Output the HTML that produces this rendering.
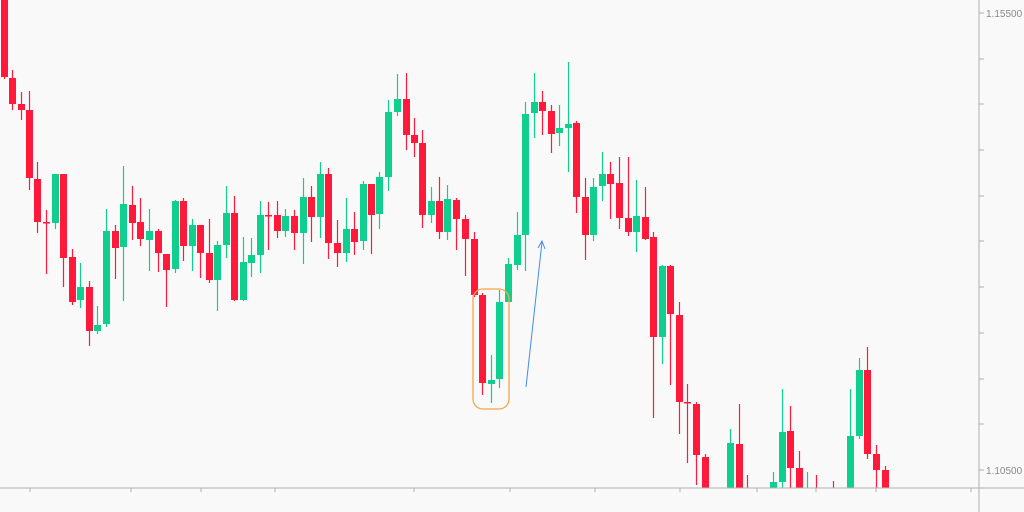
<!DOCTYPE html>
<html><head><meta charset="utf-8"><style>
html,body{margin:0;padding:0;background:#f9f9f9;}
svg{display:block;}
.r{fill:#ff1a3c;stroke:#ff1a3c}
.g{fill:#0fcf8f;stroke:#0fcf8f}
line.r,line.g{stroke-width:1.2}
rect.r,rect.g{stroke-width:0}
text{font-family:"Liberation Sans",sans-serif;font-size:10px;fill:#8a8a8a}
</style></head><body>
<svg width="1024" height="512" viewBox="0 0 1024 512" xmlns="http://www.w3.org/2000/svg">
<rect width="1024" height="512" fill="#f9f9f9"/>
<defs><clipPath id="c"><rect x="0" y="0" width="979" height="488"/></clipPath></defs>
<g clip-path="url(#c)">
<line class="r" x1="4.5" x2="4.5" y1="0" y2="79"/><rect class="r" x="1" y="0" width="7" height="77"/>
<line class="r" x1="12.5" x2="12.5" y1="70" y2="110"/><rect class="r" x="9" y="78" width="7" height="26"/>
<line class="r" x1="21.5" x2="21.5" y1="92" y2="120"/><rect class="r" x="18" y="104" width="7" height="6"/>
<line class="r" x1="29.5" x2="29.5" y1="91" y2="190"/><rect class="r" x="26" y="110" width="7" height="68"/>
<line class="r" x1="37.5" x2="37.5" y1="162" y2="233"/><rect class="r" x="34" y="179" width="7" height="43"/>
<line class="r" x1="46.5" x2="46.5" y1="210" y2="274"/><rect class="r" x="43" y="222" width="7" height="1.5"/>
<line class="g" x1="55.5" x2="55.5" y1="174" y2="229"/><rect class="g" x="52" y="174" width="7" height="49"/>
<line class="r" x1="63.5" x2="63.5" y1="174" y2="287"/><rect class="r" x="60" y="174" width="7" height="84"/>
<line class="r" x1="72.5" x2="72.5" y1="249" y2="305"/><rect class="r" x="69" y="257" width="7" height="45"/>
<line class="g" x1="80.5" x2="80.5" y1="263" y2="308"/><rect class="g" x="77" y="287" width="7" height="13"/>
<line class="r" x1="89.5" x2="89.5" y1="281" y2="346"/><rect class="r" x="86" y="287" width="7" height="44"/>
<line class="g" x1="97.5" x2="97.5" y1="306" y2="334"/><rect class="g" x="94" y="325" width="7" height="6"/>
<line class="g" x1="106.5" x2="106.5" y1="209" y2="327"/><rect class="g" x="103" y="231" width="7" height="93"/>
<line class="r" x1="115.5" x2="115.5" y1="225" y2="279"/><rect class="r" x="112" y="231" width="7" height="17"/>
<line class="g" x1="123.5" x2="123.5" y1="166" y2="301"/><rect class="g" x="120" y="204" width="7" height="43"/>
<line class="r" x1="132.5" x2="132.5" y1="186" y2="240"/><rect class="r" x="129" y="205" width="7" height="18"/>
<line class="r" x1="140.5" x2="140.5" y1="198" y2="246"/><rect class="r" x="137" y="222" width="7" height="17"/>
<line class="g" x1="149.5" x2="149.5" y1="209" y2="271"/><rect class="g" x="146" y="231" width="7" height="9"/>
<line class="r" x1="158.5" x2="158.5" y1="229" y2="272"/><rect class="r" x="155" y="231" width="7" height="22"/>
<line class="r" x1="166.5" x2="166.5" y1="254" y2="307"/><rect class="r" x="163" y="254" width="7" height="16"/>
<line class="g" x1="175.5" x2="175.5" y1="200" y2="273"/><rect class="g" x="172" y="201" width="7" height="68"/>
<line class="r" x1="183.5" x2="183.5" y1="198" y2="261"/><rect class="r" x="180" y="201" width="7" height="45"/>
<line class="g" x1="192.5" x2="192.5" y1="219" y2="271"/><rect class="g" x="189" y="225" width="7" height="21"/>
<line class="r" x1="200.5" x2="200.5" y1="225" y2="278"/><rect class="r" x="197" y="225" width="7" height="28"/>
<line class="r" x1="209.5" x2="209.5" y1="219" y2="283"/><rect class="r" x="206" y="253" width="7" height="27"/>
<line class="g" x1="217.5" x2="217.5" y1="241" y2="311"/><rect class="g" x="214" y="245" width="7" height="35"/>
<line class="g" x1="226.5" x2="226.5" y1="186" y2="258"/><rect class="g" x="223" y="213" width="7" height="32"/>
<line class="r" x1="234.5" x2="234.5" y1="196" y2="301"/><rect class="r" x="231" y="213" width="7" height="87"/>
<line class="g" x1="243.5" x2="243.5" y1="237" y2="301"/><rect class="g" x="240" y="262" width="7" height="38"/>
<line class="g" x1="251.5" x2="251.5" y1="238" y2="277"/><rect class="g" x="248" y="255" width="7" height="8"/>
<line class="g" x1="260.5" x2="260.5" y1="201" y2="273"/><rect class="g" x="257" y="215" width="7" height="40"/>
<line class="r" x1="268.5" x2="268.5" y1="202" y2="250"/><rect class="r" x="265" y="215" width="7" height="1.5"/>
<line class="r" x1="277.5" x2="277.5" y1="201" y2="238"/><rect class="r" x="274" y="215" width="7" height="16"/>
<line class="g" x1="285.5" x2="285.5" y1="209" y2="237"/><rect class="g" x="282" y="216" width="7" height="15"/>
<line class="r" x1="294.5" x2="294.5" y1="210" y2="250"/><rect class="r" x="291" y="216" width="7" height="17"/>
<line class="g" x1="303.5" x2="303.5" y1="178" y2="264"/><rect class="g" x="300" y="197" width="7" height="36"/>
<line class="r" x1="311.5" x2="311.5" y1="186" y2="242"/><rect class="r" x="308" y="197" width="7" height="20"/>
<line class="g" x1="320.5" x2="320.5" y1="162" y2="238"/><rect class="g" x="317" y="174" width="7" height="43"/>
<line class="r" x1="328.5" x2="328.5" y1="168" y2="259"/><rect class="r" x="325" y="174" width="7" height="69"/>
<line class="r" x1="337.5" x2="337.5" y1="220" y2="267"/><rect class="r" x="334" y="243" width="7" height="10"/>
<line class="g" x1="346.5" x2="346.5" y1="198" y2="262"/><rect class="g" x="343" y="229" width="7" height="24"/>
<line class="r" x1="354.5" x2="354.5" y1="212" y2="255"/><rect class="r" x="351" y="229" width="7" height="13"/>
<line class="g" x1="363.5" x2="363.5" y1="181" y2="250"/><rect class="g" x="360" y="184" width="7" height="57"/>
<line class="r" x1="371.5" x2="371.5" y1="184" y2="254"/><rect class="r" x="368" y="184" width="7" height="31"/>
<line class="g" x1="379.5" x2="379.5" y1="172" y2="229"/><rect class="g" x="376" y="177" width="7" height="37"/>
<line class="g" x1="388.5" x2="388.5" y1="100" y2="191"/><rect class="g" x="385" y="112" width="7" height="65"/>
<line class="g" x1="397.5" x2="397.5" y1="74" y2="116"/><rect class="g" x="394" y="99" width="7" height="13"/>
<line class="r" x1="406.5" x2="406.5" y1="73" y2="150"/><rect class="r" x="403" y="99" width="7" height="36"/>
<line class="r" x1="414.5" x2="414.5" y1="118" y2="157"/><rect class="r" x="411" y="135" width="7" height="8"/>
<line class="r" x1="422.5" x2="422.5" y1="130" y2="228"/><rect class="r" x="419" y="143" width="7" height="72"/>
<line class="g" x1="431.5" x2="431.5" y1="187" y2="223"/><rect class="g" x="428" y="201" width="7" height="14"/>
<line class="r" x1="439.5" x2="439.5" y1="177" y2="239"/><rect class="r" x="436" y="201" width="7" height="31"/>
<line class="g" x1="447.5" x2="447.5" y1="185" y2="240"/><rect class="g" x="444" y="199" width="7" height="33"/>
<line class="r" x1="456.5" x2="456.5" y1="198" y2="250"/><rect class="r" x="453" y="200" width="7" height="19"/>
<line class="r" x1="465.5" x2="465.5" y1="215" y2="276"/><rect class="r" x="462" y="219" width="7" height="20"/>
<line class="r" x1="474.5" x2="474.5" y1="232" y2="297"/><rect class="r" x="471" y="239" width="7" height="56"/>
<line class="r" x1="482.5" x2="482.5" y1="293" y2="395"/><rect class="r" x="479" y="295" width="7" height="88"/>
<line class="g" x1="491.5" x2="491.5" y1="355" y2="403"/><rect class="g" x="488" y="380" width="7" height="4"/>
<line class="g" x1="499.5" x2="499.5" y1="290" y2="388"/><rect class="g" x="496" y="302" width="7" height="77"/>
<line class="g" x1="508.5" x2="508.5" y1="258" y2="302"/><rect class="g" x="505" y="264" width="7" height="38"/>
<line class="g" x1="517.5" x2="517.5" y1="212" y2="270"/><rect class="g" x="514" y="235" width="7" height="30"/>
<line class="g" x1="525.5" x2="525.5" y1="102" y2="271"/><rect class="g" x="522" y="114" width="7" height="121"/>
<line class="g" x1="534.5" x2="534.5" y1="73" y2="138"/><rect class="g" x="531" y="102" width="7" height="11"/>
<line class="r" x1="542.5" x2="542.5" y1="91" y2="135"/><rect class="r" x="539" y="102" width="7" height="9"/>
<line class="r" x1="551.5" x2="551.5" y1="105" y2="153"/><rect class="r" x="548" y="111" width="7" height="23"/>
<line class="g" x1="559.5" x2="559.5" y1="105" y2="146"/><rect class="g" x="556" y="128" width="7" height="5"/>
<line class="g" x1="568.5" x2="568.5" y1="62" y2="172"/><rect class="g" x="565" y="124" width="7" height="4"/>
<line class="r" x1="576.5" x2="576.5" y1="121" y2="213"/><rect class="r" x="573" y="123" width="7" height="74"/>
<line class="r" x1="585.5" x2="585.5" y1="178" y2="260"/><rect class="r" x="582" y="197" width="7" height="38"/>
<line class="g" x1="593.5" x2="593.5" y1="178" y2="241"/><rect class="g" x="590" y="187" width="7" height="48"/>
<line class="g" x1="602.5" x2="602.5" y1="152" y2="201"/><rect class="g" x="599" y="174" width="7" height="12"/>
<line class="r" x1="610.5" x2="610.5" y1="162" y2="219"/><rect class="r" x="607" y="174" width="7" height="10"/>
<line class="r" x1="619.5" x2="619.5" y1="157" y2="229"/><rect class="r" x="616" y="183" width="7" height="35"/>
<line class="r" x1="628.5" x2="628.5" y1="157" y2="236"/><rect class="r" x="625" y="218" width="7" height="14"/>
<line class="g" x1="636.5" x2="636.5" y1="180" y2="252"/><rect class="g" x="633" y="216" width="7" height="16"/>
<line class="r" x1="645.5" x2="645.5" y1="187" y2="240"/><rect class="r" x="642" y="217" width="7" height="22"/>
<line class="r" x1="653.5" x2="653.5" y1="232" y2="418"/><rect class="r" x="650" y="237" width="7" height="100"/>
<line class="g" x1="662.5" x2="662.5" y1="265" y2="364"/><rect class="g" x="659" y="266" width="7" height="71"/>
<line class="r" x1="670.5" x2="670.5" y1="265" y2="385"/><rect class="r" x="667" y="266" width="7" height="48"/>
<line class="r" x1="679.5" x2="679.5" y1="302" y2="434"/><rect class="r" x="676" y="315" width="7" height="87"/>
<line class="r" x1="687.5" x2="687.5" y1="384" y2="463"/><rect class="r" x="684" y="402" width="7" height="1.5"/>
<line class="r" x1="696.5" x2="696.5" y1="402" y2="485"/><rect class="r" x="693" y="404" width="7" height="51"/>
<line class="r" x1="705.5" x2="705.5" y1="454" y2="495"/><rect class="r" x="702" y="457" width="7" height="38"/>
<line class="g" x1="730.5" x2="730.5" y1="429" y2="495"/><rect class="g" x="727" y="443" width="7" height="52"/>
<line class="r" x1="739.5" x2="739.5" y1="404" y2="495"/><rect class="r" x="736" y="444" width="7" height="51"/>
<line class="r" x1="747.5" x2="747.5" y1="475" y2="495"/>
<line class="g" x1="773.5" x2="773.5" y1="472" y2="495"/><rect class="g" x="770" y="482" width="7" height="13"/>
<line class="g" x1="782.5" x2="782.5" y1="389" y2="495"/><rect class="g" x="779" y="432" width="7" height="50"/>
<line class="r" x1="790.5" x2="790.5" y1="406" y2="495"/><rect class="r" x="787" y="431" width="7" height="37"/>
<line class="r" x1="799.5" x2="799.5" y1="451" y2="495"/><rect class="r" x="796" y="468" width="7" height="27"/>
<line class="g" x1="807.5" x2="807.5" y1="472" y2="495"/>
<line class="r" x1="816.5" x2="816.5" y1="475" y2="495"/>
<line class="r" x1="833.5" x2="833.5" y1="481" y2="495"/>
<line class="g" x1="850.5" x2="850.5" y1="389" y2="495"/><rect class="g" x="847" y="436" width="7" height="59"/>
<line class="g" x1="859.5" x2="859.5" y1="358" y2="439"/><rect class="g" x="856" y="370" width="7" height="66"/>
<line class="r" x1="867.5" x2="867.5" y1="347" y2="459"/><rect class="r" x="864" y="370" width="7" height="84"/>
<line class="r" x1="876.5" x2="876.5" y1="445" y2="495"/><rect class="r" x="873" y="454" width="7" height="16"/>
<line class="r" x1="885.5" x2="885.5" y1="466" y2="495"/><rect class="r" x="882" y="470" width="7" height="25"/>
</g>
<line x1="979" y1="0" x2="979" y2="512" stroke="#b0b0b0" stroke-width="1"/>
<line x1="0" y1="488" x2="1024" y2="488" stroke="#b0b0b0" stroke-width="1"/>
<g stroke="#b0b0b0" stroke-width="1">
<line x1="979" y1="13" x2="984" y2="13"/><line x1="979" y1="59" x2="984" y2="59"/><line x1="979" y1="104" x2="984" y2="104"/><line x1="979" y1="150" x2="984" y2="150"/><line x1="979" y1="196" x2="984" y2="196"/><line x1="979" y1="241" x2="984" y2="241"/><line x1="979" y1="287" x2="984" y2="287"/><line x1="979" y1="333" x2="984" y2="333"/><line x1="979" y1="379" x2="984" y2="379"/><line x1="979" y1="424" x2="984" y2="424"/><line x1="979" y1="470" x2="984" y2="470"/>
<line x1="30" y1="488" x2="30" y2="492"/><line x1="131" y1="488" x2="131" y2="492"/><line x1="201" y1="488" x2="201" y2="492"/><line x1="275" y1="488" x2="275" y2="492"/><line x1="414" y1="488" x2="414" y2="492"/><line x1="510" y1="488" x2="510" y2="492"/><line x1="595" y1="488" x2="595" y2="492"/><line x1="680" y1="488" x2="680" y2="492"/><line x1="757" y1="488" x2="757" y2="492"/><line x1="816" y1="488" x2="816" y2="492"/><line x1="876" y1="488" x2="876" y2="492"/><line x1="971" y1="488" x2="971" y2="492"/>
</g>
<text x="986" y="17">1.15500</text>
<text x="986" y="474">1.10500</text>
<rect x="473" y="289" width="36" height="120" rx="10" ry="10" fill="none" stroke="#f5a54a" stroke-width="1.3"/>
<line x1="526" y1="387" x2="542" y2="242" stroke="#3d8ef0" stroke-width="1"/>
<polyline points="538,248 542,241 545,249" fill="none" stroke="#3d8ef0" stroke-width="1"/>
</svg>
</body></html>
